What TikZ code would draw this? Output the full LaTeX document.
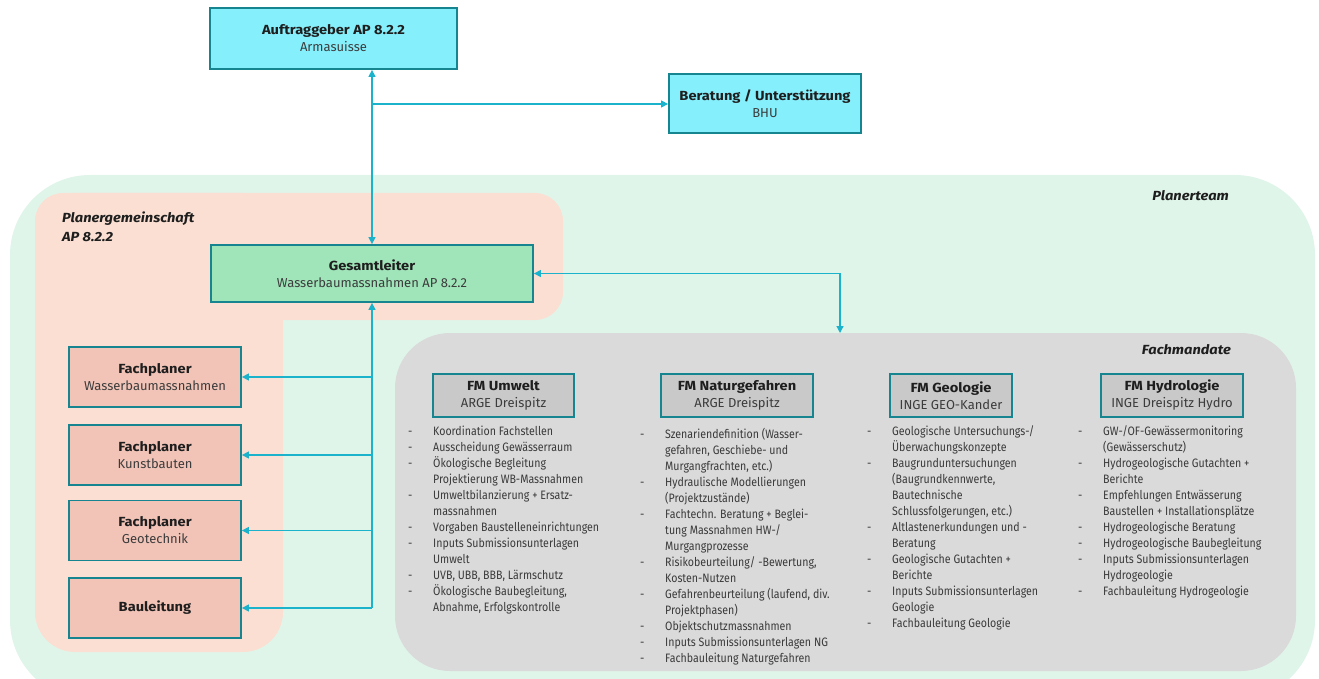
\documentclass[tikz,border=0pt]{standalone}
\usepackage{fontspec}
\setmainfont{Fira Sans}
\newfontfamily\tfont[FakeStretch=1.11]{Fira Sans}
\newfontfamily\lfont[FakeStretch=0.87]{Fira Sans}
\usetikzlibrary{arrows.meta}
\definecolor{cyanfill}{HTML}{86EFFC}
\definecolor{tealborder}{HTML}{17858F}
\definecolor{glfill}{HTML}{A0E4B9}
\definecolor{teambg}{HTML}{E0F5EA}
\definecolor{pgbg}{HTML}{FADFD2}
\definecolor{fpfill}{HTML}{F2C4B7}
\definecolor{fmbg}{HTML}{DADADA}
\definecolor{fmfill}{HTML}{C9C9C9}
\definecolor{conncol}{HTML}{1BB3CC}
\definecolor{titlec}{HTML}{1E1E1E}
\definecolor{subc}{HTML}{3C3C3C}
\definecolor{listc}{HTML}{3A3A3A}
\newcommand{\ttl}[1]{{\tfont\fontsize{13.2}{17}\selectfont\bfseries #1}}
\newcommand{\sbt}[1]{{\fontsize{13}{17}\selectfont\color{subc}#1}}
\tikzset{
  box/.style={draw=tealborder, line width=1.8pt, align=center, inner sep=0pt,
    text=titlec, font=\fontsize{13}{17}\selectfont},
  cyanbox/.style={box, fill=cyanfill},
  glbox/.style={box, fill=glfill},
  fpbox/.style={box, fill=fpfill, minimum width=172pt, minimum height=60pt},
  fmbox/.style={box, fill=fmfill, minimum height=43pt},
  lbl/.style={inner sep=0pt, text=titlec, font=\tfont\fontsize{13.2}{19}\selectfont\bfseries\itshape},
  listtext/.style={inner sep=0pt, text=listc, font=\lfont\fontsize{12.2}{16}\selectfont, anchor=north west},
  cline/.style={draw=conncol, line width=1.3pt},
  tip/.tip={Triangle[length=7pt,width=7pt]}
}
\begin{document}
\begin{tikzpicture}[x=1pt,y=-1pt]
\useasboundingbox (0,0) rectangle (1319,679);
% backgrounds
\fill[teambg, rounded corners=80pt] (10,175) rectangle (1315,700);
\fill[pgbg, rounded corners=28pt] (35,193) rectangle (563,320);
\fill[pgbg, rounded corners=40pt] (35,193) rectangle (283,652);
\fill[fmbg, rounded corners=55pt] (395,333) rectangle (1296,671);
% labels
\node[lbl, anchor=north west, align=left] (pglabel) at (62,212) {Planergemeinschaft\\AP 8.2.2};
\node[lbl, anchor=east] (ptlabel) at (1229,196) {Planerteam};
\node[lbl, anchor=east] (fmlabel) at (1231,350) {Fachmandate};
% boxes
\node[cyanbox, minimum width=247pt, minimum height=61pt] (auf) at (333.5,38.5)
  {\ttl{Auftraggeber AP 8.2.2}\\\sbt{Armasuisse}};
\node[cyanbox, minimum width=192pt, minimum height=59pt] (ber) at (765,103.5)
  {\ttl{Beratung / Unterstützung}\\\sbt{BHU}};
\node[glbox, minimum width=322pt, minimum height=57pt] (gl) at (372,273.5)
  {\ttl{Gesamtleiter}\\\sbt{Wasserbaumassnahmen AP 8.2.2}};
\node[fpbox] (fp1) at (155,377) {\ttl{Fachplaner}\\\sbt{Wasserbaumassnahmen}};
\node[fpbox] (fp2) at (155,455) {\ttl{Fachplaner}\\\sbt{Kunstbauten}};
\node[fpbox] (fp3) at (155,530.5) {\ttl{Fachplaner}\\\sbt{Geotechnik}};
\node[fpbox] (fp4) at (155,608) {\ttl{Bauleitung}};
\node[fmbox, minimum width=141pt] (fmu) at (503.5,395.5) {\ttl{FM Umwelt}\\\sbt{ARGE Dreispitz}};
\node[fmbox, minimum width=152pt] (fmn) at (737,395.5) {\ttl{FM Naturgefahren}\\\sbt{ARGE Dreispitz}};
\node[fmbox, minimum width=122pt] (fmg) at (951,395.5) {\ttl{FM Geologie}\\\sbt{INGE GEO-Kander}};
\node[fmbox, minimum width=142pt] (fmh) at (1172,395.5) {\ttl{FM Hydrologie}\\\sbt{INGE Dreispitz Hydro}};
% lists
\node[listtext] (lu) at (408,424) {\begin{tabular}{@{}p{25pt}@{}l@{}}
- & Koordination Fachstellen\\
- & Ausscheidung Gewässerraum\\
- & Ökologische Begleitung\\
  & Projektierung WB-Massnahmen\\
- & Umweltbilanzierung + Ersatz-\\
  & massnahmen\\
- & Vorgaben Baustelleneinrichtungen\\
- & Inputs Submissionsunterlagen\\
  & Umwelt\\
- & UVB, UBB, BBB, Lärmschutz\\
- & Ökologische Baubegleitung,\\
  & Abnahme, Erfolgskontrolle
\end{tabular}};
\node[listtext] (ln) at (640,427) {\begin{tabular}{@{}p{25pt}@{}l@{}}
- & Szenariendefinition (Wasser-\\
  & gefahren, Geschiebe- und\\
  & Murgangfrachten, etc.)\\
- & Hydraulische Modellierungen\\
  & (Projektzustände)\\
- & Fachtechn. Beratung + Beglei-\\
  & tung Massnahmen HW-/\\
  & Murgangprozesse\\
- & Risikobeurteilung/ -Bewertung,\\
  & Kosten-Nutzen\\
- & Gefahrenbeurteilung (laufend, div.\\
  & Projektphasen)\\
- & Objektschutzmassnahmen\\
- & Inputs Submissionsunterlagen NG\\
- & Fachbauleitung Naturgefahren
\end{tabular}};
\node[listtext] (lg) at (867,424) {\begin{tabular}{@{}p{25pt}@{}l@{}}
- & Geologische Untersuchungs-/\\
  & Überwachungskonzepte\\
- & Baugrunduntersuchungen\\
  & (Baugrundkennwerte,\\
  & Bautechnische\\
  & Schlussfolgerungen, etc.)\\
- & Altlastenerkundungen und -\\
  & Beratung\\
- & Geologische Gutachten +\\
  & Berichte\\
- & Inputs Submissionsunterlagen\\
  & Geologie\\
- & Fachbauleitung Geologie
\end{tabular}};
\node[listtext] (lh) at (1078,424) {\begin{tabular}{@{}p{25pt}@{}l@{}}
- & GW-/OF-Gewässermonitoring\\
  & (Gewässerschutz)\\
- & Hydrogeologische Gutachten +\\
  & Berichte\\
- & Empfehlungen Entwässerung\\
  & Baustellen + Installationsplätze\\
- & Hydrogeologische Beratung\\
- & Hydrogeologische Baubegleitung\\
- & Inputs Submissionsunterlagen\\
  & Hydrogeologie\\
- & Fachbauleitung Hydrogeologie
\end{tabular}};
% connectors
\coordinate (jb) at (372,104);
\coordinate (fmtop) at (840,333);
\coordinate (jbot) at (gl.south |- fp4.east);
\draw[cline, tip-tip] (auf.south -| gl.north) -- (gl.north);
\draw[cline, -tip] (jb) -- (jb -| ber.west);
\draw[cline, tip-tip] (gl.east) -| (fmtop);
\draw[cline, tip-] (gl.south) -- (jbot);
\draw[cline, -tip] (fp1.east -| jbot) -- (fp1.east);
\draw[cline, -tip] (fp2.east -| jbot) -- (fp2.east);
\draw[cline, -tip] (fp3.east -| jbot) -- (fp3.east);
\draw[cline, -tip] (jbot) -- (fp4.east);
\end{tikzpicture}
\end{document}
